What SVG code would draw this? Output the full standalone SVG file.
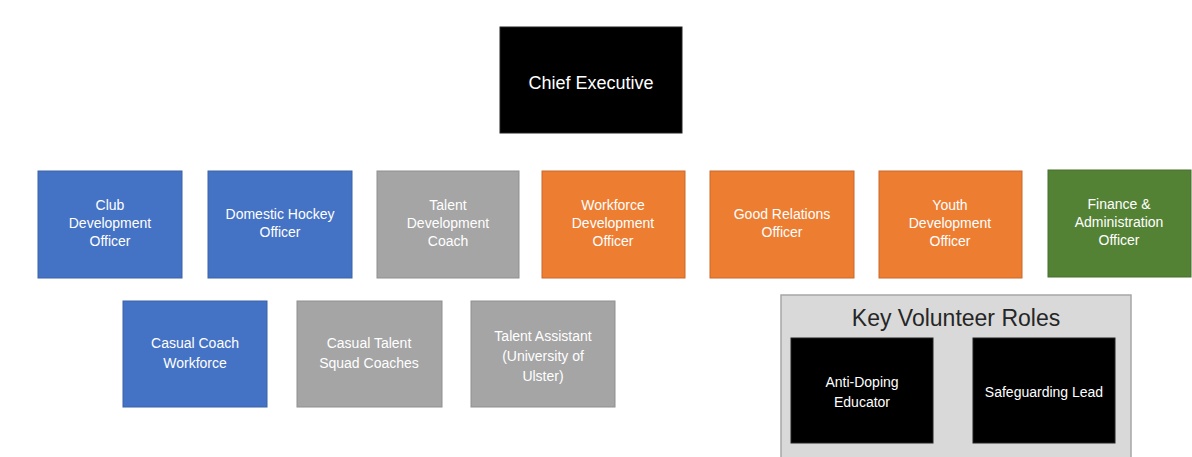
<svg xmlns="http://www.w3.org/2000/svg" width="1192" height="457" viewBox="0 0 1192 457">
<style>
  .box{stroke-width:1}
  .blue{fill:#4472c4;stroke:#3a62a8}
  .gray{fill:#a5a5a5;stroke:#8f8f8f}
  .orange{fill:#ed7d31;stroke:#c9692a}
  .green{fill:#548235;stroke:#466e2c}
  .black{fill:#000;stroke:#222}
  text{font-family:"Liberation Sans",Arial,sans-serif;font-size:14px;fill:#fff;text-anchor:middle}
  .big{font-size:18px}
  .title{font-size:23px;fill:#262626}
</style>
<rect width="1192" height="457" fill="#fff"/>
<g id="chief-executive">
  <rect class="box black" x="500" y="27" width="182" height="106"/>
  <text class="big" x="591" y="89">Chief Executive</text>
</g>
<g id="club-development-officer">
  <rect class="box blue" x="38" y="171" width="144" height="107"/>
  <text x="110" y="210">Club</text>
  <text x="110" y="228">Development</text>
  <text x="110" y="246">Officer</text>
</g>
<g id="domestic-hockey-officer">
  <rect class="box blue" x="208" y="171" width="144" height="107"/>
  <text x="280" y="219">Domestic Hockey</text>
  <text x="280" y="237">Officer</text>
</g>
<g id="talent-development-coach">
  <rect class="box gray" x="377" y="171" width="142" height="107"/>
  <text x="448" y="210">Talent</text>
  <text x="448" y="228">Development</text>
  <text x="448" y="246">Coach</text>
</g>
<g id="workforce-development-officer">
  <rect class="box orange" x="542" y="171" width="143" height="107"/>
  <text x="613" y="210">Workforce</text>
  <text x="613" y="228">Development</text>
  <text x="613" y="246">Officer</text>
</g>
<g id="good-relations-officer">
  <rect class="box orange" x="710" y="171" width="144" height="107"/>
  <text x="782" y="219">Good Relations</text>
  <text x="782" y="237">Officer</text>
</g>
<g id="youth-development-officer">
  <rect class="box orange" x="879" y="171" width="143" height="107"/>
  <text x="950" y="210">Youth</text>
  <text x="950" y="228">Development</text>
  <text x="950" y="246">Officer</text>
</g>
<g id="finance-administration-officer">
  <rect class="box green" x="1048" y="170" width="143" height="107"/>
  <text x="1119" y="209">Finance &amp;</text>
  <text x="1119" y="227">Administration</text>
  <text x="1119" y="245">Officer</text>
</g>
<g id="casual-coach-workforce">
  <rect class="box blue" x="123" y="301" width="144" height="106"/>
  <text x="195" y="348">Casual Coach</text>
  <text x="195" y="368">Workforce</text>
</g>
<g id="casual-talent-squad-coaches">
  <rect class="box gray" x="297" y="301" width="145" height="106"/>
  <text x="369" y="348">Casual Talent</text>
  <text x="369" y="368">Squad Coaches</text>
</g>
<g id="talent-assistant">
  <rect class="box gray" x="471" y="301" width="144" height="106"/>
  <text x="543" y="341">Talent Assistant</text>
  <text x="543" y="361">(University of</text>
  <text x="543" y="381">Ulster)</text>
</g>
<g id="key-volunteer-roles">
  <rect x="781" y="295" width="350" height="170" fill="#d9d9d9" stroke="#a6a6a6" stroke-width="1.5"/>
  <text class="title" x="956" y="326">Key Volunteer Roles</text>
</g>
<g id="anti-doping-educator">
  <rect class="box black" x="791" y="338" width="142" height="105"/>
  <text x="862" y="387">Anti-Doping</text>
  <text x="862" y="407">Educator</text>
</g>
<g id="safeguarding-lead">
  <rect class="box black" x="973" y="338" width="142" height="105"/>
  <text x="1044" y="397">Safeguarding Lead</text>
</g>
<g id="connectors"></g>
</svg>
